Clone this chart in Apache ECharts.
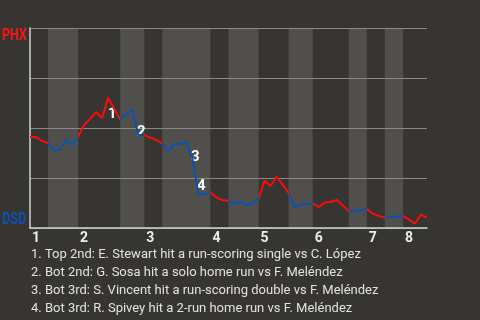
<!DOCTYPE html>
<html>
<head>
<meta charset="utf-8">
<script src="https://cdn.jsdelivr.net/npm/echarts@6/dist/echarts.min.js"></script>
<style>
html,body{margin:0;padding:0;background:#373531;}
#c{width:480px;height:320px;}
</style>
</head>
<body>
<div id="c"></div>
<script>
// Plate-appearance index where each half-inning begins (top 1st, bot 1st, top 2nd, ...), last = end
const halfStarts = [0, 3, 8, 15, 19, 22, 30, 33, 38, 43, 47, 53, 56, 59, 62, 66];
// PHX win probability (%) after each plate appearance
const winProb = [
  45.5, 45.5, 43.5, 42.5, 39, 39, 44.2, 41.5, 45.7, 51.5,
  54.7, 58, 55, 65.2, 59.5, 54.3, 56.7, 59.3, 46.5, 46.5,
  45.2, 44, 42.3, 38.5, 42, 42, 43.1, 35, 17, 17,
  18, 15.2, 14, 13.5, 12, 13.1, 11.5, 12.5, 14.7, 23.7,
  21, 25.6, 21.7, 17.5, 10.5, 11.5, 12, 12.3, 10.5, 12.7,
  13.1, 14, 11.2, 8.5, 8.5, 9, 9.5, 7.2, 6, 5.2,
  5.5, 5.8, 6.1, 4.2, 2.3, 6.7, 5.2
];
const innings = ['1', '2', '3', '4', '5', '6', '7', '8'];
const teams = ['PHX', 'DSD'];
const eventIdx = [13, 18, 27, 28];
const eventNames = ['1', '2', '3', '4'];
const eventNotes = [
  '1. Top 2nd: E. Stewart hit a run-scoring single vs C. López',
  '2. Bot 2nd: G. Sosa hit a solo home run vs F. Meléndez',
  '3. Bot 3rd: S. Vincent hit a run-scoring double vs F. Meléndez',
  '4. Bot 3rd: R. Spivey hit a 2-run home run vs F. Meléndez'
];

const RED = '#ff0a0a', BLUE = '#0a52b0';
const labelOffsets = [[4, 17], [3, -3], [3, -1], [3, -8]];

const inningStarts = halfStarts.filter((v, i) => i % 2 === 0 && i < halfStarts.length - 1);
const pieces = [];
const bands = [];
for (let k = 0; k < halfStarts.length - 1; k++) {
  const p = { gte: halfStarts[k], color: k % 2 === 0 ? RED : BLUE };
  if (k === halfStarts.length - 2) p.lte = halfStarts[k + 1]; else p.lt = halfStarts[k + 1];
  pieces.push(p);
  if (k % 2 === 1) bands.push([{ xAxis: halfStarts[k] }, { xAxis: halfStarts[k + 1] }]);
}
const lineData = winProb.map((v, i) => [i, v]);

const teamStyle = { fontSize: 17, fontWeight: 'bold', fontFamily: 'Roboto' };

const chart = echarts.init(document.getElementById('c'));
chart.setOption({
  backgroundColor: '#373531',
  animation: false,
  grid: { left: 30, right: 53, top: 28, bottom: 92 },
  xAxis: {
    type: 'value', min: 0, max: halfStarts[halfStarts.length - 1], z: 3,
    axisLine: { show: true, lineStyle: { color: '#d2d2d2', width: 1.5 } },
    axisTick: { show: false },
    splitLine: { show: false },
    axisLabel: {
      customValues: inningStarts,
      formatter: v => innings[inningStarts.indexOf(v)] || '',
      align: 'left', padding: [0, 0, 0, 2], margin: 3,
      color: '#ececec', fontWeight: 'bold', fontSize: 14, fontFamily: 'Roboto'
    }
  },
  yAxis: {
    type: 'value', min: 0, max: 100, interval: 25, z: 3,
    axisLine: { show: true, lineStyle: { color: '#d2d2d2', width: 1.5 } },
    axisTick: { show: false },
    axisLabel: { show: false },
    splitLine: { lineStyle: { color: '#8a8987', width: 1.2 } }
  },
  visualMap: { show: false, type: 'piecewise', dimension: 0, seriesIndex: 1, pieces: pieces },
  series: [
    {
      type: 'line', data: [], z: 1, silent: true,
      markArea: { silent: true, itemStyle: { color: '#504f4c' }, data: bands }
    },
    {
      type: 'line', data: lineData, z: 5, symbol: 'none', smooth: false,
      lineStyle: { width: 2 },
      markPoint: {
        symbol: 'circle', symbolSize: 0,
        data: eventIdx.map((idx, j) => ({
          coord: [idx, winProb[idx]], value: eventNames[j],
          label: { show: true, position: 'inside', offset: labelOffsets[j], formatter: eventNames[j],
            color: '#ffffff', fontWeight: 'bold', fontSize: 15, fontFamily: 'Roboto' }
        }))
      }
    }
  ],
  graphic: [
    { type: 'group', x: 2, y: 27, scaleX: 0.74, children: [
      { type: 'text', style: Object.assign({ text: teams[0], fill: '#ff1414' }, teamStyle) } ] },
    { type: 'group', x: 2, y: 211, scaleX: 0.74, children: [
      { type: 'text', style: Object.assign({ text: teams[1], fill: '#0d52b5' }, teamStyle) } ] },
    { type: 'text', left: 31, top: 246, style: { text: eventNotes.join('\n'), fill: '#e2e2e2', fontSize: 13, fontFamily: 'Roboto', lineHeight: 18 } }
  ]
});
</script>
</body>
</html>
